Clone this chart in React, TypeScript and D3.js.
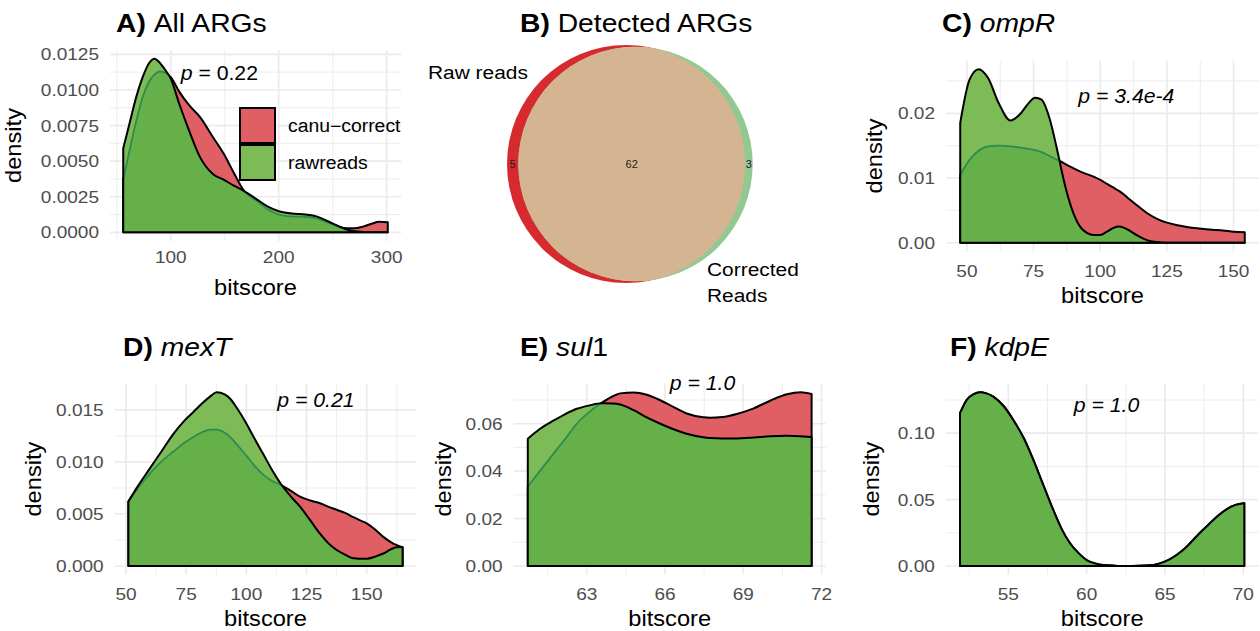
import React from 'react';
import * as d3 from 'd3';

const FONT = "'Liberation Sans', Arial, Helvetica, sans-serif";
const SX = 1.1; // horizontal text stretch seen in the reference
const RED = '#DF5F65';
const LIGHT_GREEN = '#7DBB57';
const OVERLAP = '#66B04A';
const DARK_LINE = '#2E8B4E';
const GRID = '#EBEBEB';
const TICK_COL = '#4D4D4D';

// ---------- A) All ARGs ----------
const allBits = [56, 62, 68, 74, 80, 85, 90, 95, 100, 108, 117, 127, 139, 149, 158, 168, 180, 190, 200, 212, 225, 235, 245, 255, 263, 270, 278, 286, 293, 301];
const allRaw = [0.0059, 0.0077, 0.0095, 0.0109, 0.0119, 0.0122, 0.0119, 0.0114, 0.0108, 0.009, 0.00715, 0.0053, 0.0041, 0.0037, 0.0033, 0.0029, 0.0023, 0.0018, 0.00148, 0.00132, 0.00125, 0.00112, 0.0008, 0.00045, 0.0002, 0.00008, 0.00003, 0.00001, 0, 0];
const allCanu = [0.0037, 0.0058, 0.0078, 0.0095, 0.0106, 0.0111, 0.0113, 0.0112, 0.0109, 0.00987, 0.00893, 0.00811, 0.0067, 0.00553, 0.00424, 0.0029, 0.0022, 0.0016, 0.00125, 0.00112, 0.00108, 0.00098, 0.0007, 0.0004, 0.00028, 0.00028, 0.0004, 0.0006, 0.00075, 0.0007];

// ---------- C) ompR ----------
const ompBits = [47.5, 51, 54.4, 58, 62, 66.3, 70, 73, 75.6, 78, 81, 84.4, 86.3, 88, 90, 93, 97.5, 100, 102.5, 105, 107, 109, 111.3, 114, 117.5, 121.3, 125, 129, 133, 137, 142, 146, 150, 154.2];
const ompRaw = [0.0185, 0.0252, 0.0268, 0.0254, 0.0215, 0.0189, 0.0199, 0.0215, 0.0224, 0.0221, 0.0192, 0.0133, 0.0097, 0.007, 0.0045, 0.0022, 0.0012, 0.0012, 0.0017, 0.0023, 0.0025, 0.0023, 0.0018, 0.0011, 0.0004, 0.0001, 0, 0, 0, 0, 0, 0, 0, 0];
const ompCanu = [0.01046, 0.0128, 0.0142, 0.0149, 0.015, 0.0149, 0.0147, 0.0145, 0.0143, 0.014, 0.0134, 0.0127, 0.0123, 0.0119, 0.0115, 0.0109, 0.0102, 0.0097, 0.0091, 0.0085, 0.008, 0.0074, 0.0066, 0.0057, 0.0046, 0.0037, 0.0031, 0.0027, 0.0024, 0.0022, 0.002, 0.0019, 0.0017, 0.0016];

// ---------- D) mexT ----------
const mexBits = [51, 55, 60, 65, 69.7, 74, 78, 82, 85, 87.7, 91, 93.2, 96, 100, 103.5, 106.9, 110.5, 114.3, 118, 122.3, 126.5, 130.6, 134, 137.5, 141, 144.4, 147, 150, 153.5, 156.9, 160, 162.5, 164.9];
const mexRaw = [0.0062, 0.0077, 0.0094, 0.0111, 0.0127, 0.0139, 0.0148, 0.0157, 0.0163, 0.0167, 0.0165, 0.0161, 0.0152, 0.0137, 0.0122, 0.0108, 0.0093, 0.0079, 0.0068, 0.0057, 0.0044, 0.0031, 0.0022, 0.00154, 0.0011, 0.00074, 0.0007, 0.0007, 0.0009, 0.0012, 0.0016, 0.0018, 0.0018];
const mexCanu = [0.0062, 0.0075, 0.0089, 0.0101, 0.011, 0.0118, 0.0124, 0.0129, 0.0131, 0.0131, 0.0128, 0.0124, 0.0117, 0.0106, 0.0096, 0.0088, 0.0082, 0.0078, 0.0073, 0.00666, 0.0063, 0.00603, 0.0057, 0.0054, 0.0051, 0.0047, 0.0044, 0.0041, 0.0035, 0.0028, 0.0023, 0.002, 0.0018];

// ---------- E) sul1 ----------
const sulBits = [60.74, 61.2, 61.72, 62.2, 62.62, 63.1, 63.57, 64.0, 64.28, 64.8, 65.3, 65.8, 66.3, 66.83, 67.47, 67.72, 68.2, 68.75, 69.4, 70.03, 70.67, 71.2, 71.62];
const sulRaw = [0.0537, 0.0578, 0.0613, 0.0642, 0.0663, 0.0677, 0.0686, 0.0685, 0.0681, 0.0657, 0.0627, 0.0601, 0.0578, 0.0558, 0.0543, 0.054, 0.0538, 0.0538, 0.0542, 0.0547, 0.0549, 0.0547, 0.0543];
const sulCanu = [0.0335, 0.04, 0.0473, 0.054, 0.06, 0.065, 0.0688, 0.0716, 0.0728, 0.0732, 0.0722, 0.07, 0.0672, 0.0643, 0.0627, 0.0625, 0.0628, 0.0641, 0.0665, 0.0697, 0.0724, 0.0733, 0.0726];

// ---------- F) kdpE ----------
const kdpBits = [51.92, 52.35, 52.8, 53.2, 53.6, 54.04, 54.7, 55.32, 56.0, 56.6, 57.2, 57.87, 58.4, 58.94, 59.5, 60, 60.6, 61.3, 62, 62.9, 63.8, 64.68, 65.2, 65.74, 66.3, 66.8, 67.3, 67.87, 68.4, 68.93, 69.5, 70.06];
const kdpRaw = [0.1151, 0.1251, 0.1295, 0.1309, 0.13, 0.1276, 0.1205, 0.11, 0.096, 0.0799, 0.062, 0.0422, 0.028, 0.0171, 0.0095, 0.0045, 0.0018, 0.0005, 0.0001, 0, 0.0003, 0.002, 0.0045, 0.0083, 0.0135, 0.0196, 0.0258, 0.0322, 0.038, 0.0427, 0.046, 0.0473];
const kdpCanu = [0.1151, 0.1251, 0.1295, 0.1309, 0.13, 0.1276, 0.1205, 0.11, 0.096, 0.0799, 0.062, 0.0422, 0.028, 0.0171, 0.0095, 0.0045, 0.0018, 0.0005, 0.0001, 0, 0.0003, 0.002, 0.0045, 0.0083, 0.0135, 0.0196, 0.0258, 0.0322, 0.038, 0.0427, 0.046, 0.0473];

// ---------- B) Venn ----------
const vennSetNames = ['Raw reads', 'Corrected Reads'];
const vennSetSizes = [67, 65];
const vennCounts = [5, 62, 3];

const legendLabels = ['canu\u2212correct', 'rawreads'];

type TitlePart = { t: string; bold?: boolean; italic?: boolean };

type Spec = {
  id: string;
  l: number; r: number; t: number; b: number;
  bits: number[]; raw: number[]; canu: number[];
  xTicks: number[]; xMinor: number[];
  yTicks: number[]; yMinor: number[]; yFmt: (v: number) => string;
  title: TitlePart[]; titleX: number; titleY: number;
  pParts: TitlePart[]; pX: number; pY: number;
  xTickBase: number; xLabBase: number; yLabX: number;
  legend?: boolean;
};

const specs: Spec[] = [
  {
    id: 'A', l: 110, r: 401, t: 50, b: 241,
    bits: allBits, raw: allRaw, canu: allCanu,
    xTicks: [100, 200, 300], xMinor: [50, 150, 250],
    yTicks: [0, 0.0025, 0.005, 0.0075, 0.01, 0.0125], yMinor: [0.00125, 0.00375, 0.00625, 0.00875, 0.01125],
    yFmt: d3.format('.4f'),
    title: [{ t: 'A) ', bold: true }, { t: 'All ARGs' }], titleX: 116, titleY: 32,
    pParts: [{ t: 'p', italic: true }, { t: ' = 0.22' }], pX: 145, pY: 0.0107,
    xTickBase: 263, xLabBase: 295, yLabX: 21, legend: true,
  },
  {
    id: 'C', l: 946, r: 1259, t: 60.6, b: 251.4,
    bits: ompBits, raw: ompRaw, canu: ompCanu,
    xTicks: [50, 75, 100, 125, 150], xMinor: [62.5, 87.5, 112.5, 137.5],
    yTicks: [0, 0.01, 0.02], yMinor: [0.005, 0.015, 0.025],
    yFmt: d3.format('.2f'),
    title: [{ t: 'C) ', bold: true }, { t: 'ompR', italic: true }], titleX: 942, titleY: 32,
    pParts: [{ t: 'p = 3.4e-4', italic: true }], pX: 109.8, pY: 0.0216,
    xTickBase: 277, xLabBase: 303, yLabX: 882,
  },
  {
    id: 'D', l: 114.7, r: 416.3, t: 383.5, b: 574.7,
    bits: mexBits, raw: mexRaw, canu: mexCanu,
    xTicks: [50, 75, 100, 125, 150], xMinor: [62.5, 87.5, 112.5, 137.5, 162.5],
    yTicks: [0, 0.005, 0.01, 0.015], yMinor: [0.0025, 0.0075, 0.0125],
    yFmt: d3.format('.3f'),
    title: [{ t: 'D) ', bold: true }, { t: 'mexT', italic: true }], titleX: 123, titleY: 356,
    pParts: [{ t: 'p = 0.21', italic: true }], pX: 128.9, pY: 0.0153,
    xTickBase: 600, xLabBase: 626, yLabX: 41,
  },
  {
    id: 'E', l: 513.6, r: 825.8, t: 383.5, b: 574.7,
    bits: sulBits, raw: sulRaw, canu: sulCanu,
    xTicks: [63, 66, 69, 72], xMinor: [61.5, 64.5, 67.5, 70.5],
    yTicks: [0, 0.02, 0.04, 0.06], yMinor: [0.01, 0.03, 0.05, 0.07],
    yFmt: d3.format('.2f'),
    title: [{ t: 'E) ', bold: true }, { t: 'sul', italic: true }, { t: '1' }], titleX: 520, titleY: 356,
    pParts: [{ t: 'p = 1.0', italic: true }], pX: 67.44, pY: 0.0744,
    xTickBase: 600, xLabBase: 626, yLabX: 451,
  },
  {
    id: 'F', l: 945.8, r: 1258.5, t: 383.5, b: 574.7,
    bits: kdpBits, raw: kdpRaw, canu: kdpCanu,
    xTicks: [55, 60, 65, 70], xMinor: [52.5, 57.5, 62.5, 67.5],
    yTicks: [0, 0.05, 0.1], yMinor: [0.025, 0.075, 0.125],
    yFmt: d3.format('.2f'),
    title: [{ t: 'F) ', bold: true }, { t: 'kdpE', italic: true }], titleX: 950, titleY: 356,
    pParts: [{ t: 'p = 1.0', italic: true }], pX: 61.27, pY: 0.1163,
    xTickBase: 600, xLabBase: 626, yLabX: 879,
  },
];

const SIZE = { tick: 17.3, axis: 21.5, title: 25.7, p: 19.3, legend: 17.6, venn: 19 };

function parts(p: TitlePart[]) {
  return p.map((q, i) => (
    <tspan key={i} fontWeight={q.bold ? 'bold' : 'normal'} fontStyle={q.italic ? 'italic' : 'normal'}>{q.t}</tspan>
  ));
}

function T({ x, y, size, anchor = 'start', fill = '#000', rotate = 0, dy, children }: any) {
  const tr = `translate(${x},${y})${rotate ? ` rotate(${rotate})` : ''} scale(${SX},1)`;
  return (
    <g transform={tr}>
      <text x={0} y={0} dy={dy} fontSize={size} textAnchor={anchor} fill={fill}>{children}</text>
    </g>
  );
}

function DensityPanel({ s }: { s: Spec }) {
  const [x0, x1] = d3.extent(s.bits) as [number, number];
  const xr = x1 - x0;
  const x = d3.scaleLinear().domain([x0 - 0.05 * xr, x1 + 0.05 * xr]).range([s.l, s.r]);
  const ymax = Math.max(d3.max(s.raw) as number, d3.max(s.canu) as number);
  const y = d3.scaleLinear().domain([-0.05 * ymax, 1.05 * ymax]).range([s.b, s.t]);
  const idx = d3.range(s.bits.length);
  const mkArea = (vals: number[]) =>
    d3.area<number>().x((i) => x(s.bits[i])).y0(y(0)).y1((i) => y(vals[i])).curve(d3.curveMonotoneX)(idx) as string;
  const mkLine = (vals: number[]) =>
    d3.line<number>().x((i) => x(s.bits[i])).y((i) => y(vals[i])).curve(d3.curveMonotoneX)(idx) as string;
  const redArea = mkArea(s.canu);
  const greenArea = mkArea(s.raw);
  const redLine = mkLine(s.canu);
  const clipId = `clip-green-${s.id}`;
  const cx = (s.l + s.r) / 2;
  const cy = (s.t + s.b) / 2;
  return (
    <g>
      <defs>
        <clipPath id={clipId}>
          <path d={greenArea} />
        </clipPath>
      </defs>
      {s.yMinor.map((v) => (
        <line key={'ym' + v} x1={s.l} x2={s.r} y1={y(v)} y2={y(v)} stroke={GRID} strokeWidth={0.9} />
      ))}
      {s.xMinor.map((v) => (
        <line key={'xm' + v} x1={x(v)} x2={x(v)} y1={s.t} y2={s.b} stroke={GRID} strokeWidth={0.9} />
      ))}
      {s.yTicks.map((v) => (
        <line key={'yM' + v} x1={s.l} x2={s.r} y1={y(v)} y2={y(v)} stroke={GRID} strokeWidth={1.7} />
      ))}
      {s.xTicks.map((v) => (
        <line key={'xM' + v} x1={x(v)} x2={x(v)} y1={s.t} y2={s.b} stroke={GRID} strokeWidth={1.7} />
      ))}
      <path d={redArea} fill={RED} stroke="#000" strokeWidth={2} strokeLinejoin="round" />
      <path d={greenArea} fill={LIGHT_GREEN} />
      <path d={redArea} fill={OVERLAP} clipPath={`url(#${clipId})`} />
      <path d={redLine} fill="none" stroke={DARK_LINE} strokeWidth={1.8} clipPath={`url(#${clipId})`} />
      <path d={greenArea} fill="none" stroke="#000" strokeWidth={2} strokeLinejoin="round" />
      {s.yTicks.map((v) => (
        <T key={'yl' + v} x={s.l - 11} y={y(v)} dy="0.35em" anchor="end" size={SIZE.tick} fill={TICK_COL}>
          {s.yFmt(v)}
        </T>
      ))}
      {s.xTicks.map((v) => (
        <T key={'xl' + v} x={x(v)} y={s.xTickBase} anchor="middle" size={SIZE.tick} fill={TICK_COL}>
          {v}
        </T>
      ))}
      <T x={cx} y={s.xLabBase} anchor="middle" size={SIZE.axis}>bitscore</T>
      <T x={s.yLabX} y={cy} rotate={-90} anchor="middle" size={SIZE.axis}>density</T>
      <T x={s.titleX} y={s.titleY} size={SIZE.title}>{parts(s.title)}</T>
      <T x={x(s.pX)} y={y(s.pY)} anchor="middle" size={SIZE.p}>{parts(s.pParts)}</T>
      {s.legend && (
        <g>
          <rect x={240} y={108} width={35} height={35} fill={RED} stroke="#000" strokeWidth={2} />
          <rect x={240} y={145} width={35} height={35} fill={LIGHT_GREEN} stroke="#000" strokeWidth={2} />
          <T x={288} y={125.5} dy="0.35em" size={SIZE.legend}>{legendLabels[0]}</T>
          <T x={288} y={162.5} dy="0.35em" size={SIZE.legend}>{legendLabels[1]}</T>
        </g>
      )}
    </g>
  );
}

function Venn() {
  const r = d3.scaleSqrt().domain([0, vennSetSizes[0]]).range([0, 119]);
  const rRaw = r(vennSetSizes[0]);
  const rCor = r(vennSetSizes[1]);
  const cy = 164;
  const cxRaw = 626;
  const cxCor = 635.5;
  const leftEdgeRaw = cxRaw - rRaw;
  const leftEdgeCor = cxCor - rCor;
  const rightEdgeRaw = cxRaw + rRaw;
  const rightEdgeCor = cxCor + rCor;
  const labelPos = [
    (leftEdgeRaw + leftEdgeCor) / 2,
    (leftEdgeCor + rightEdgeRaw) / 2,
    (rightEdgeRaw + rightEdgeCor) / 2,
  ];
  const [corA, corB] = vennSetNames[1].split(' ');
  return (
    <g>
      <defs>
        <clipPath id="venn-cor">
          <circle cx={cxCor} cy={cy} r={rCor} />
        </clipPath>
      </defs>
      <circle cx={cxRaw} cy={cy} r={rRaw} fill="#D62A2F" />
      <circle cx={cxCor} cy={cy} r={rCor} fill="#92C993" />
      <circle cx={cxRaw} cy={cy} r={rRaw} fill="#D5B591" clipPath="url(#venn-cor)" />
      {vennCounts.map((c, i) => (
        <text key={i} x={labelPos[i]} y={cy} dy="0.35em" textAnchor="middle" fontSize={11} fill="#222">{c}</text>
      ))}
      <T x={428} y={79} size={SIZE.venn}>{vennSetNames[0]}</T>
      <T x={707} y={276} size={SIZE.venn}>{corA}</T>
      <T x={707} y={302} size={SIZE.venn}>{corB}</T>
      <T x={520} y={32} size={SIZE.title}>
        <tspan fontWeight="bold">B) </tspan>
        <tspan>Detected ARGs</tspan>
      </T>
    </g>
  );
}

export default function App() {
  return (
    <svg
      width={1260}
      height={631}
      style={{ position: 'absolute', left: 0, top: 0, background: '#fff' }}
      fontFamily={FONT}
    >
      <rect width={1260} height={631} fill="#fff" />
      {specs.map((s) => (
        <DensityPanel key={s.id} s={s} />
      ))}
      <Venn />
    </svg>
  );
}
